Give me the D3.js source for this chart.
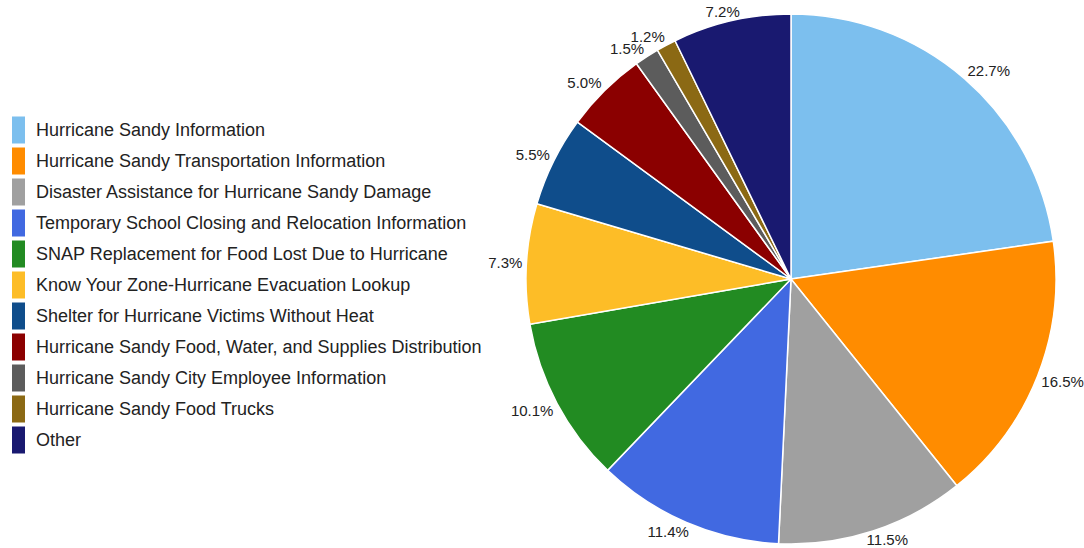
<!DOCTYPE html>
<html>
<head>
<meta charset="utf-8">
<script src="https://cdn.jsdelivr.net/npm/d3@7"></script>
<style>
  body { margin: 0; background: #fff; }
  text { font-family: "Liberation Sans", Arial, sans-serif; fill: #222; }
</style>
</head>
<body>
<div id="chart"></div>
<script>
// data
var categories = [
  "Hurricane Sandy Information",
  "Hurricane Sandy Transportation Information",
  "Disaster Assistance for Hurricane Sandy Damage",
  "Temporary School Closing and Relocation Information",
  "SNAP Replacement for Food Lost Due to Hurricane",
  "Know Your Zone-Hurricane Evacuation Lookup",
  "Shelter for Hurricane Victims Without Heat",
  "Hurricane Sandy Food, Water, and Supplies Distribution",
  "Hurricane Sandy City Employee Information",
  "Hurricane Sandy Food Trucks",
  "Other"
];
var shares = [22.7, 16.5, 11.5, 11.4, 10.1, 7.3, 5.5, 5.0, 1.5, 1.2, 7.2];
var colors = ["#7cbfee", "#ff8c00", "#a0a0a0", "#4169e1", "#228b22", "#fdbd27",
              "#0f4d8b", "#8b0000", "#5c5c5c", "#8b6914", "#191970"];

var width = 1084, height = 548;
var cx = 791, cy = 279, radius = 265;

var data = categories.map(function(c, i) {
  return {name: c, value: shares[i], color: colors[i]};
});

var svg = d3.select("#chart")
  .append("svg")
    .attr("width", width)
    .attr("height", height);

var pie = d3.pie()
  .value(function(d) { return d.value; })
  .sort(null);

var arc = d3.arc()
  .innerRadius(0)
  .outerRadius(radius);

var arcs = pie(data);

var g = svg.append("g")
  .attr("transform", "translate(" + cx + "," + cy + ")");

g.selectAll("path.slice")
  .data(arcs)
  .enter()
  .append("path")
    .attr("class", "slice")
    .attr("d", arc)
    .attr("fill", function(d) { return d.data.color; })
    .attr("stroke", "#fff")
    .attr("stroke-width", 1.5);

// percentage labels just outside the rim
function clamp(v) { return Math.max(-1, Math.min(1, v)); }

var labels = g.selectAll("text.pct")
  .data(arcs)
  .enter()
  .append("text")
    .attr("class", "pct")
    .style("font-size", "15px")
    .attr("text-anchor", "middle")
    .attr("dominant-baseline", "central")
    .text(function(d) { return d.data.value.toFixed(1) + "%"; });

labels.each(function(d) {
  var a = (d.startAngle + d.endAngle) / 2;
  var s = Math.sin(a), c = Math.cos(a);
  var r = radius + 3;
  var w = this.getComputedTextLength();
  var x = r * s + (w / 2 + 1) * clamp(s * 2);
  var y = -r * c - 6 * clamp(c * 2);
  y = Math.min(y, height - cy - 9);
  d3.select(this).attr("x", x).attr("y", y);
});

// legend
var legend = svg.append("g")
  .attr("transform", "translate(12,130)");

var items = legend.selectAll("g.item")
  .data(data)
  .enter()
  .append("g")
    .attr("class", "item")
    .attr("transform", function(d, i) { return "translate(0," + (i * 31) + ")"; });

items.append("rect")
  .attr("x", 0)
  .attr("y", -13.5)
  .attr("width", 13)
  .attr("height", 27)
  .attr("fill", function(d) { return d.color; });

items.append("text")
  .attr("x", 24)
  .attr("y", 0)
  .attr("dominant-baseline", "central")
  .style("font-size", "18px")
  .text(function(d) { return d.name; });
</script>
</body>
</html>
